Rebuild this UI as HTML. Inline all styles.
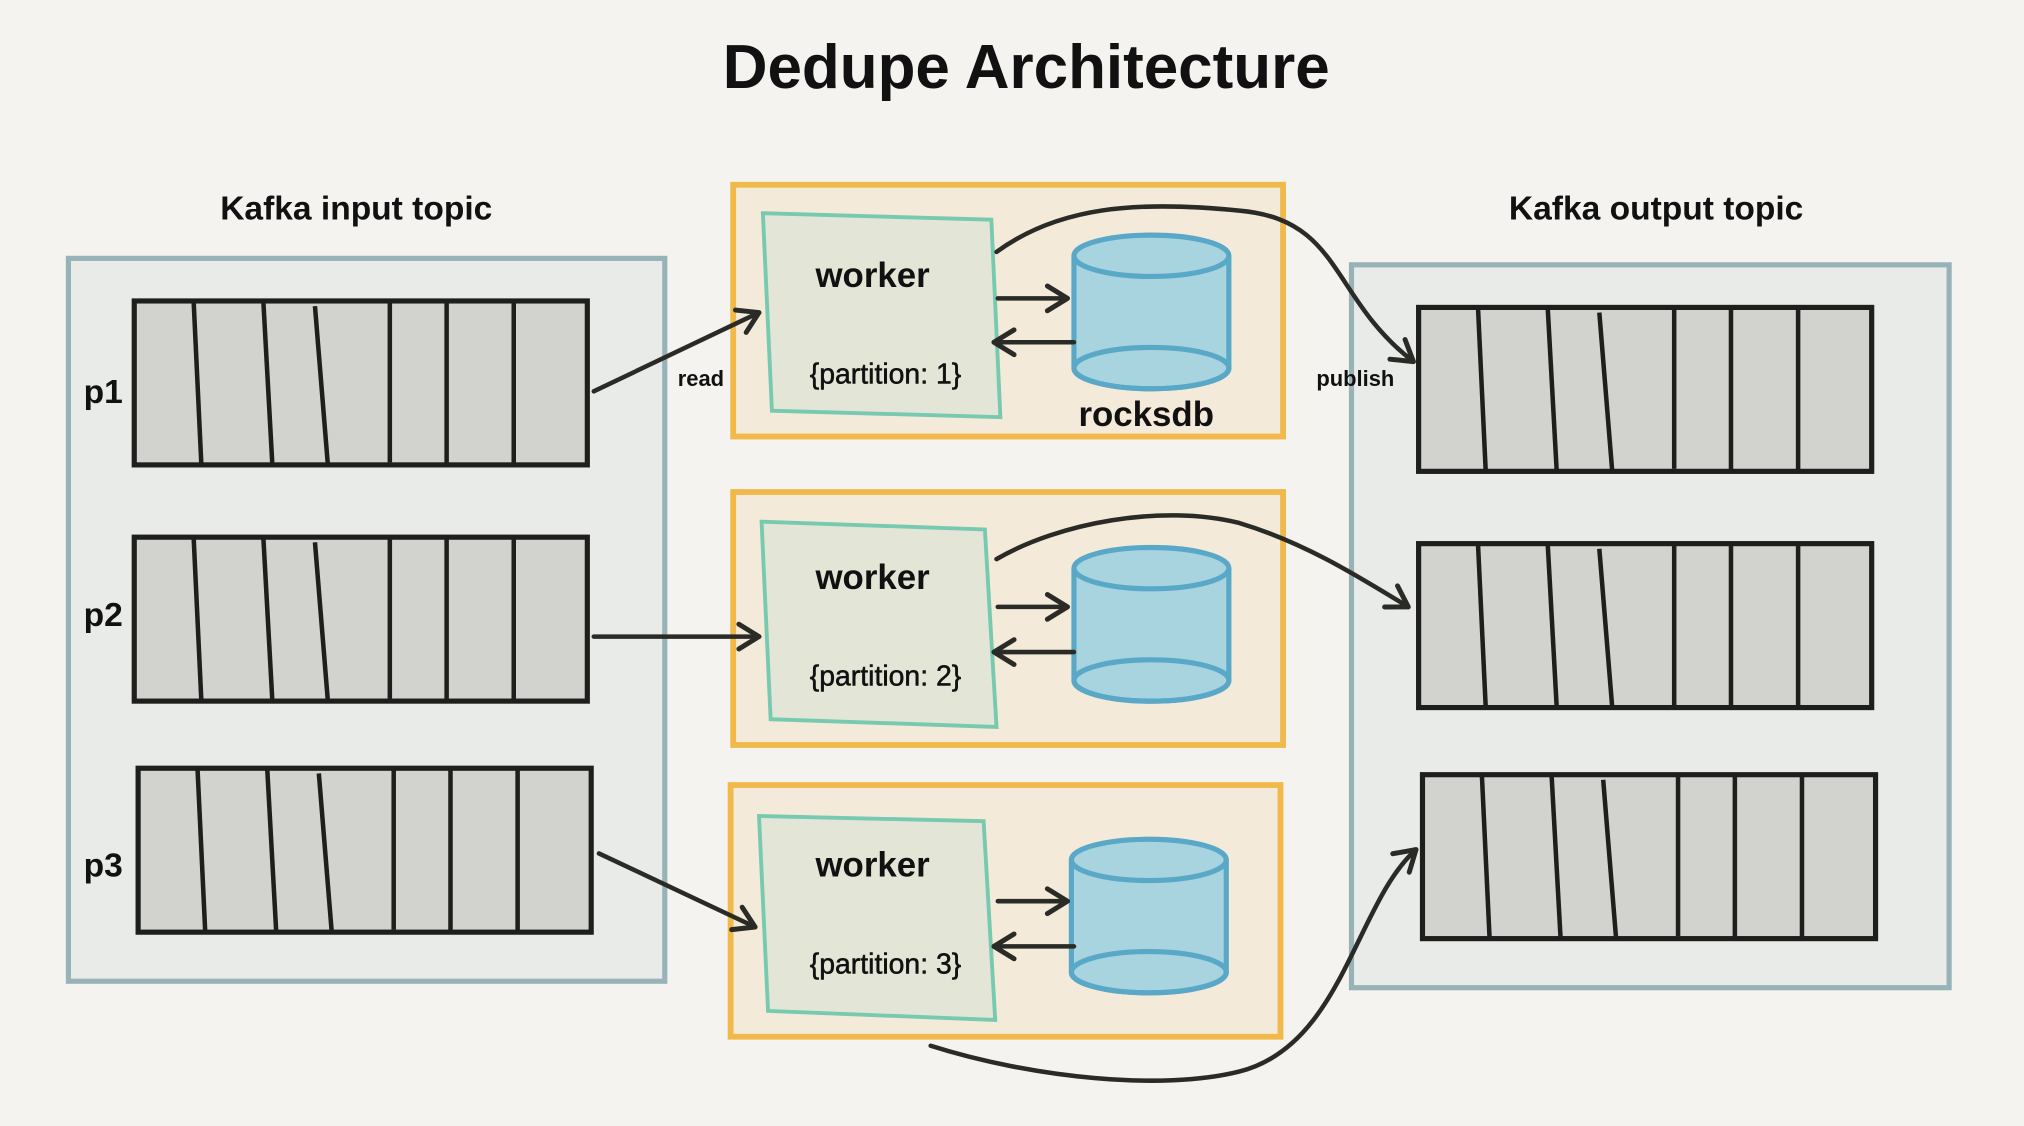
<!DOCTYPE html>
<html><head><meta charset="utf-8"><style>
html,body{margin:0;padding:0;background:#f4f3ef;}
svg{display:block}
text{font-family:"Liberation Sans",sans-serif;font-weight:bold;fill:#111}
</style></head><body>
<svg width="2024" height="1126" viewBox="0 0 1568 872" xmlns="http://www.w3.org/2000/svg">
<defs>
<marker id="ah" viewBox="0 0 20 20" refX="18" refY="10" markerWidth="24" markerHeight="24" markerUnits="userSpaceOnUse" orient="auto" overflow="visible">
<polyline points="5,2 18,10 5,18" fill="none" stroke="#2a2a26" stroke-width="3.2" stroke-linecap="round" stroke-linejoin="round"/>
</marker>
<g id="row">
<rect x="0" y="0" width="351" height="127" fill="#d2d3cf" stroke="#1e1e1c" stroke-width="4"/>
<path d="M46 0 L52 127 M100 0 L107 127 M140 4 L150 127 M198 0 L198 125 M242 0 L242 127 M294 0 L294 127" stroke="#1e1e1c" stroke-width="3.5" fill="none"/>
</g>
<g id="cyl">
<path d="M-60 0 L-60 87 A60 16 0 0 0 60 87 L60 0" fill="#a8d4df" stroke="#5aa8c8" stroke-width="4"/>
<ellipse cx="0" cy="0" rx="60" ry="16" fill="#a8d4df" stroke="#5aa8c8" stroke-width="4"/>
<ellipse cx="0" cy="87" rx="60" ry="16" fill="none" stroke="#5aa8c8" stroke-width="4"/>
</g>
</defs>
<rect width="1568" height="872" fill="#f4f3ef"/>
<text x="795" y="68" font-size="48" text-anchor="middle">Dedupe Architecture</text>
<text x="276" y="170" font-size="26" text-anchor="middle">Kafka input topic</text>
<text x="1283" y="170" font-size="26" text-anchor="middle">Kafka output topic</text>

<rect x="53" y="200" width="462" height="560" fill="#e9ebe8" stroke="#97b3b8" stroke-width="4"/>
<rect x="1047" y="205" width="463" height="560" fill="#e9ebe8" stroke="#97b3b8" stroke-width="4"/>

<use href="#row" x="104" y="233"/>
<use href="#row" x="104" y="416"/>
<use href="#row" x="107" y="595"/>
<use href="#row" x="1099" y="238"/>
<use href="#row" x="1099" y="421"/>
<use href="#row" x="1102" y="600"/>
<text x="80" y="312" font-size="26" text-anchor="middle">p1</text>
<text x="80" y="485" font-size="26" text-anchor="middle">p2</text>
<text x="80" y="679" font-size="26" text-anchor="middle">p3</text>

<g fill="#f4ead9" stroke="#f0b94a" stroke-width="4.5">
<rect x="568" y="143" width="426" height="195"/>
<rect x="568" y="381" width="426" height="196"/>
<rect x="566" y="608" width="426" height="195"/>
</g>
<g fill="#e3e6d6" stroke="#77c9b0" stroke-width="3">
<path d="M591 165 L768 170 L775 323 L598 318 Z"/>
<path d="M590 404 L763 410 L772 563 L597 557 Z"/>
<path d="M588 632 L762 636 L771 790 L595 783 Z"/>
</g>
<text x="676" y="222" font-size="27" text-anchor="middle">worker</text>
<text x="676" y="456" font-size="27" text-anchor="middle">worker</text>
<text x="676" y="679" font-size="27" text-anchor="middle">worker</text>
<text x="686" y="297" font-size="22" text-anchor="middle" style="font-weight:normal;stroke:#111;stroke-width:0.4">{partition: 1}</text>
<text x="686" y="531" font-size="22" text-anchor="middle" style="font-weight:normal;stroke:#111;stroke-width:0.4">{partition: 2}</text>
<text x="686" y="754" font-size="22" text-anchor="middle" style="font-weight:normal;stroke:#111;stroke-width:0.4">{partition: 3}</text>
<use href="#cyl" x="892" y="198"/>
<use href="#cyl" x="892" y="440"/>
<use href="#cyl" x="890" y="666"/>
<text x="888" y="330" font-size="27" text-anchor="middle">rocksdb</text>
<text x="543" y="299" font-size="17" text-anchor="middle">read</text>
<text x="1050" y="299" font-size="17" text-anchor="middle">publish</text>

<g fill="none" stroke="#2a2a26" stroke-width="3.5" stroke-linecap="round" marker-end="url(#ah)">
<path d="M460 303 L588 242"/>
<path d="M460 493 L588 493"/>
<path d="M464 661 L585 718"/>
<path d="M773 231 L827 231"/>
<path d="M832 265 L770 265"/>
<path d="M773 470 L827 470"/>
<path d="M832 505 L770 505"/>
<path d="M773 698 L827 698"/>
<path d="M832 733 L770 733"/>
<path d="M772 195 C820 160 880 155 960 163 C1040 170 1030 230 1095 280"/>
<path d="M772 433 C820 405 900 390 960 405 C1010 420 1050 445 1091 470"/>
<path d="M721 810 C800 835 900 845 960 830 C1040 810 1050 700 1097 658"/>
</g>
</svg>
</body></html>
